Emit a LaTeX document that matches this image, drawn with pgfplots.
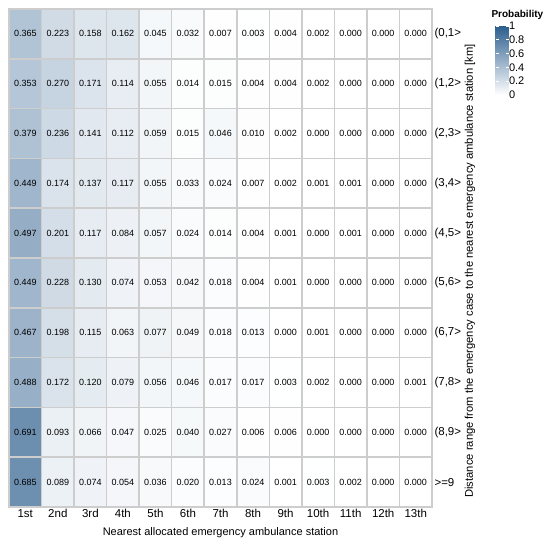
\documentclass[border=0pt]{standalone}
\usepackage{pgfplots}
\usepackage{pgfplotstable}
\pgfplotsset{compat=1.18}
\usepackage{fontspec}
\setmainfont{Liberation Sans}
\definecolor{cellgrid}{RGB}{205,205,205}
\pgfplotstableread{
x y v
1 1 0.365
2 1 0.223
3 1 0.158
4 1 0.162
5 1 0.045
6 1 0.032
7 1 0.007
8 1 0.003
9 1 0.004
10 1 0.002
11 1 0.000
12 1 0.000
13 1 0.000
1 2 0.353
2 2 0.270
3 2 0.171
4 2 0.114
5 2 0.055
6 2 0.014
7 2 0.015
8 2 0.004
9 2 0.004
10 2 0.002
11 2 0.000
12 2 0.000
13 2 0.000
1 3 0.379
2 3 0.236
3 3 0.141
4 3 0.112
5 3 0.059
6 3 0.015
7 3 0.046
8 3 0.010
9 3 0.002
10 3 0.000
11 3 0.000
12 3 0.000
13 3 0.000
1 4 0.449
2 4 0.174
3 4 0.137
4 4 0.117
5 4 0.055
6 4 0.033
7 4 0.024
8 4 0.007
9 4 0.002
10 4 0.001
11 4 0.001
12 4 0.000
13 4 0.000
1 5 0.497
2 5 0.201
3 5 0.117
4 5 0.084
5 5 0.057
6 5 0.024
7 5 0.014
8 5 0.004
9 5 0.001
10 5 0.000
11 5 0.001
12 5 0.000
13 5 0.000
1 6 0.449
2 6 0.228
3 6 0.130
4 6 0.074
5 6 0.053
6 6 0.042
7 6 0.018
8 6 0.004
9 6 0.001
10 6 0.000
11 6 0.000
12 6 0.000
13 6 0.000
1 7 0.467
2 7 0.198
3 7 0.115
4 7 0.063
5 7 0.077
6 7 0.049
7 7 0.018
8 7 0.013
9 7 0.000
10 7 0.001
11 7 0.000
12 7 0.000
13 7 0.000
1 8 0.488
2 8 0.172
3 8 0.120
4 8 0.079
5 8 0.056
6 8 0.046
7 8 0.017
8 8 0.017
9 8 0.003
10 8 0.002
11 8 0.000
12 8 0.000
13 8 0.001
1 9 0.691
2 9 0.093
3 9 0.066
4 9 0.047
5 9 0.025
6 9 0.040
7 9 0.027
8 9 0.006
9 9 0.006
10 9 0.000
11 9 0.000
12 9 0.000
13 9 0.000
1 10 0.685
2 10 0.089
3 10 0.074
4 10 0.054
5 10 0.036
6 10 0.020
7 10 0.013
8 10 0.024
9 10 0.001
10 10 0.003
11 10 0.002
12 10 0.000
13 10 0.000
}\heat
\begin{document}
\begin{tikzpicture}[x=1pt,y=1pt]
\path[use as bounding box] (0,0) rectangle (550,545);
\coordinate (cb) at (487,519);
\begin{axis}[
  at={(9pt,38pt)}, anchor=south west,
  width=423pt, height=498pt, scale only axis,
  xmin=0.5, xmax=13.5, ymin=0.5, ymax=10.5,
  y dir=reverse,
  axis on top,
  axis line style={cellgrid, line width=1.6pt},
  xtick={1,...,13},
  xticklabels={1st,2nd,3rd,4th,5th,6th,7th,8th,9th,10th,11th,12th,13th},
  ytick={1,...,10},
  yticklabels={{(0,1>},{(1,2>},{(2,3>},{(3,4>},{(4,5>},{(5,6>},{(6,7>},{(7,8>},{(8,9>},{>=9}},
  yticklabel pos=right,
  major tick length=0pt,
  minor xtick={0.5,1.5,...,13.5},
  minor ytick={0.5,1.5,...,10.5},
  minor tick length=0pt,
  grid=minor,
  minor grid style={cellgrid, line width=1.6pt},
  xticklabel style={font=\fontsize{11.5}{13}\selectfont, yshift=1pt},
  yticklabel style={font=\fontsize{11.5}{13}\selectfont, anchor=west, xshift=-1pt},
  colormap={wb}{rgb255=(255,255,255) rgb255=(44,94,142)},
  point meta min=0, point meta max=1,
  colorbar,
  colorbar style={
    at={(cb)}, anchor=north west,
    width=13pt, height=69pt, scale only axis,
    ymin=0, ymax=1,
    ytick={0,0.2,0.4,0.6,0.8,1},
    yticklabel pos=right,
    yticklabel style={font=\fontsize{11}{12}\selectfont, xshift=-3pt, /pgf/number format/assume math mode=true},
    major tick length=3pt,
    ytick style={draw=white, line width=0.8pt},
    axis line style={draw=none},
  },
]
\addplot[matrix plot*, mesh/cols=13, point meta=explicit] table[x=x, y=y, meta=v] {\heat};
\addplot[only marks, mark=none, point meta=explicit,
  nodes near coords={\pgfmathprintnumber[fixed,zerofill,precision=3,assume math mode=true]{\pgfplotspointmeta}},
  every node near coord/.style={anchor=center, font=\fontsize{9}{10}\selectfont, text=black}]
  table[x=x, y=y, meta=v] {\heat};
\end{axis}
\node[font=\fontsize{11}{13}\selectfont] at (220.5,12) {Nearest allocated emergency ambulance station};
\node[font=\fontsize{11.2}{13}\selectfont, rotate=90] at (470,274) {Distance range from the emergency case to the nearest emergency ambulance station [km]};
\node[font=\bfseries\fontsize{10}{12}\selectfont, anchor=west] at (488,530) {Probability};
\end{tikzpicture}
\end{document}
